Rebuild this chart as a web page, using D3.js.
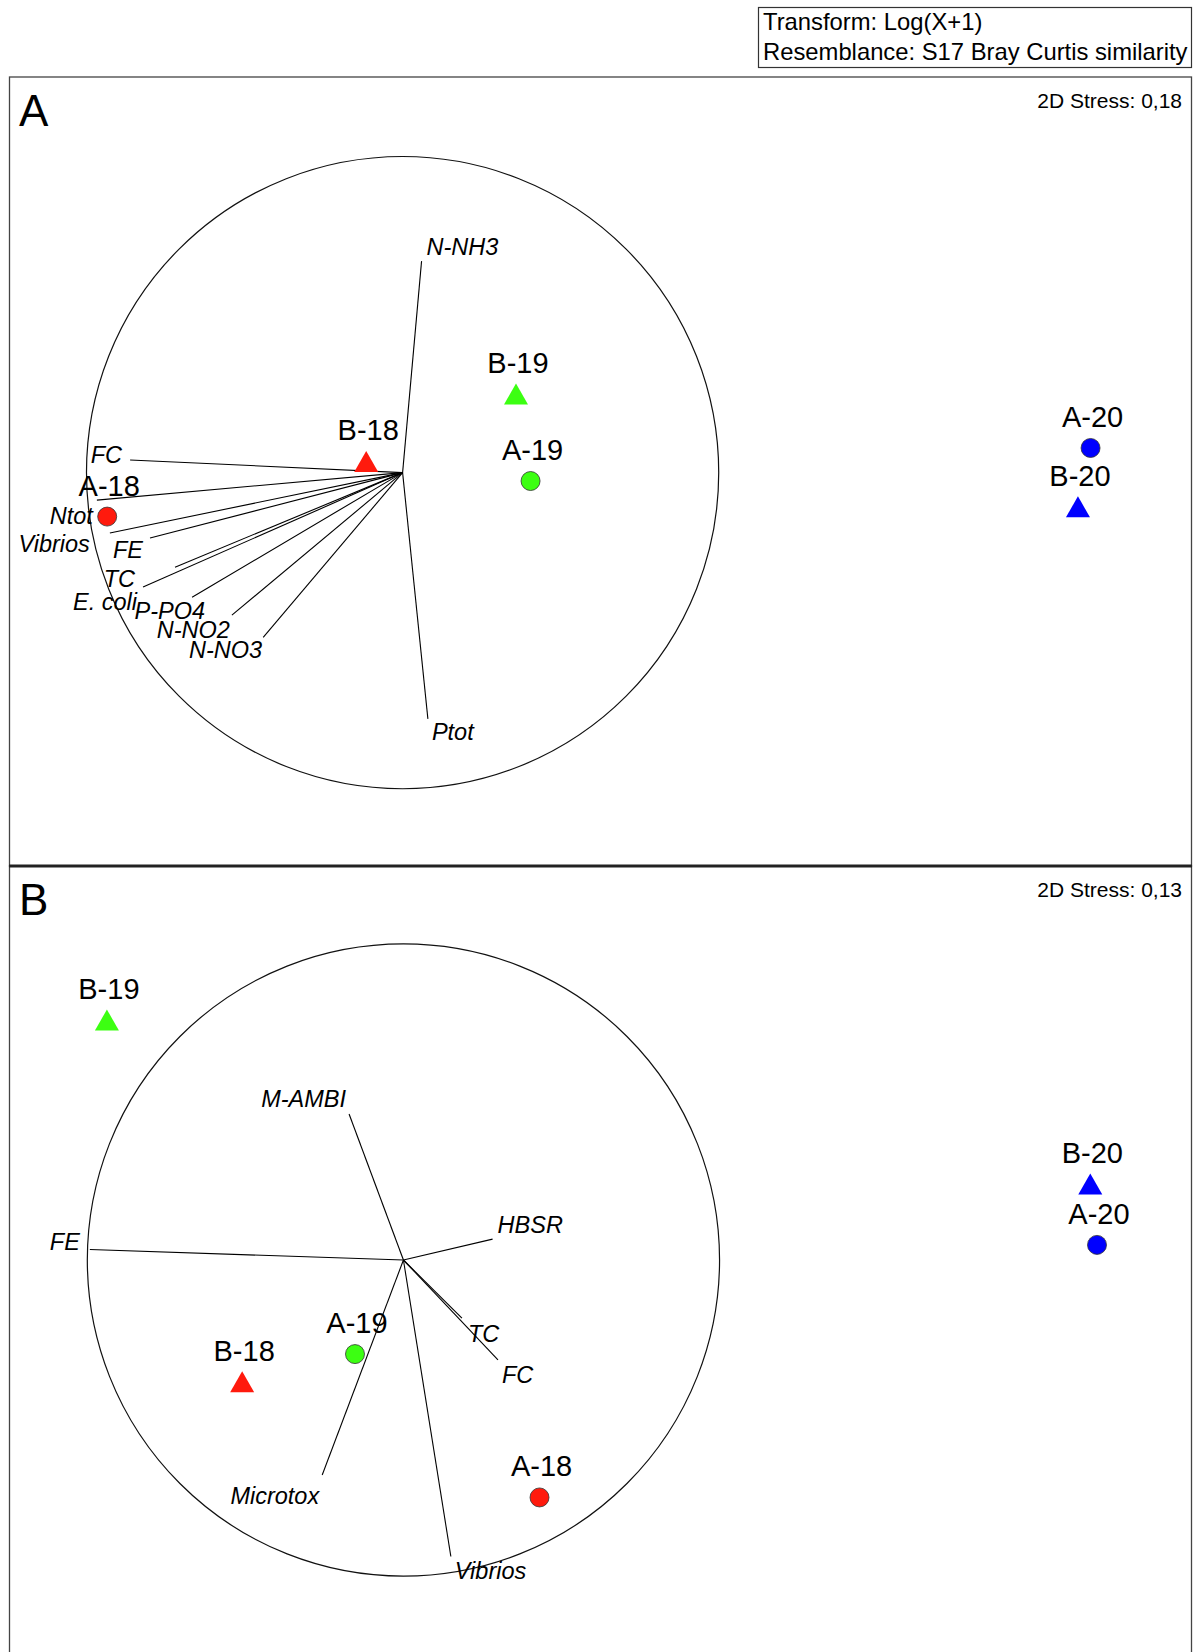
<!DOCTYPE html>
<meta charset="utf-8">
<style>
  body { margin: 0; background: #fff; }
  svg text { font-family: "Liberation Sans", Arial, sans-serif; fill: #000; }
  .vec text { font-style: italic; font-size: 23.5px; }
  .sample text { font-size: 29px; text-anchor: middle; }
</style>
<svg id="chart" width="1197" height="1652"></svg>
<script src="https://d3js.org/d3.v7.min.js"></script>
<script>
// samples (site x year)
const samples = ["A-18", "B-18", "A-19", "B-19", "A-20", "B-20"];
const sites = ["A", "B", "A", "B", "A", "B"];
const years = ["18", "18", "19", "19", "20", "20"];

// panel A - nMDS coordinates
const mdsA1 = [-1.760, -0.835, -0.248, -0.300, 1.752, 1.707];
const mdsA2 = [-0.161, 0.036, -0.034, 0.277, 0.084, -0.126];
// panel A - vector overlay (correlations)
const varsA = ["FC", "Ntot", "Vibrios", "FE", "TC", "E. coli", "P-PO4", "N-NO2", "N-NO3", "N-NH3", "Ptot"];
const corrA1 = [-0.862, -0.967, -0.926, -0.799, -0.720, -0.821, -0.666, -0.540, -0.441, 0.060, 0.080];
const corrA2 = [0.040, -0.087, -0.191, -0.207, -0.299, -0.362, -0.394, -0.451, -0.521, 0.669, -0.779];
const circleA = [-0.705, -0.004, 1.129]; // centre mds1, centre mds2, radius
const stressA = "2D Stress: 0,18";

// panel B
const mdsB1 = [-0.216, -1.278, -0.875, -1.761, 1.775, 1.751];
const mdsB2 = [-0.848, -0.435, -0.336, 0.857, 0.054, 0.271];
const varsB = ["M-AMBI", "HBSR", "FE", "TC", "FC", "Microtox", "Vibrios"];
const corrB1 = [-0.172, 0.282, -0.992, 0.185, 0.299, -0.257, 0.150];
const corrB2 = [0.462, 0.066, 0.033, -0.184, -0.316, -0.680, -0.938];
const circleB = [-0.702, 0.0, 1.129];
const stressB = "2D Stress: 0,13";

const legendLines = ["Transform: Log(X+1)", "Resemblance: S17 Bray Curtis similarity"];

// label placement next to vector tips: [dx, dy, anchor]
const tipA = {
  "FC": [-8, 3, "end"], "Ntot": [-4, 24, "end"], "Vibrios": [-20, 19, "end"],
  "FE": [-7, 20, "end"], "TC": [-40, 20, "end"], "E. coli": [-6, 23, "end"],
  "P-PO4": [13, 22, "end"], "N-NO2": [-2, 23, "end"], "N-NO3": [-1, 21, "end"],
  "N-NH3": [5, -6, "start"], "Ptot": [4, 21, "start"]
};
const tipB = {
  "M-AMBI": [-3, -7, "end"], "HBSR": [5, -6, "start"], "FE": [-10, 0, "end"],
  "TC": [6, 24, "start"], "FC": [4, 23, "start"], "Microtox": [-3, 29, "end"],
  "Vibrios": [4, 22, "start"]
};

const svg = d3.select("#chart");
const color = d3.scaleOrdinal().domain(["18", "19", "20"]).range(["#ff1a0d", "#3cff12", "#0000ff"]);
const x = d3.scaleLinear().domain([-2.1, 2.1]).range([12, 1188]);

// legend box
const leg = svg.append("g");
leg.append("rect").attr("x", 758.5).attr("y", 7.5).attr("width", 433).attr("height", 60)
  .attr("fill", "none").attr("stroke", "#333").attr("stroke-width", 1.2);
legendLines.forEach((t, i) => {
  leg.append("text").attr("x", 763).attr("y", 30 + i * 30).style("font-size", "23.8px").text(t);
});

function drawPanel(top, bottom, mid, letter, stress, m1, m2, vars, c1, c2, circ, tips) {
  const g = svg.append("g");
  const y = d3.scaleLinear().domain([-1.4, 1.4]).range([mid + 392, mid - 392]);

  g.append("rect").attr("x", 9.5).attr("y", top).attr("width", 1182).attr("height", bottom - top)
    .attr("fill", "none").attr("stroke", "#444").attr("stroke-width", 1.3);

  g.append("text").attr("x", 19).attr("y", top + 49).style("font-size", "44px").text(letter);
  g.append("text").attr("x", 1182).attr("y", top + 31).attr("text-anchor", "end")
    .style("font-size", "21px").text(stress);

  // correlation circle
  const ox = x(circ[0]), oy = y(circ[1]);
  g.append("circle").attr("cx", ox).attr("cy", oy).attr("r", x(circ[2]) - x(0))
    .attr("fill", "none").attr("stroke", "#111").attr("stroke-width", 1.2);

  const vec = g.append("g").attr("class", "vec");
  const vdata = vars.map((v, i) => ({ name: v, ex: x(circ[0] + c1[i] * circ[2]), ey: y(circ[1] + c2[i] * circ[2]) }));
  vec.selectAll("line").data(vdata).join("line")
    .attr("x1", ox).attr("y1", oy).attr("x2", d => d.ex).attr("y2", d => d.ey)
    .attr("stroke", "#000").attr("stroke-width", 1.1);
  vec.selectAll("text").data(vdata).join("text")
    .attr("x", d => d.ex + tips[d.name][0]).attr("y", d => d.ey + tips[d.name][1])
    .attr("text-anchor", d => tips[d.name][2]).text(d => d.name);

  // samples
  const sdata = samples.map((s, i) => ({ name: s, site: sites[i], year: years[i], px: x(m1[i]), py: y(m2[i]) }));
  const sg = g.append("g").attr("class", "sample");
  sg.selectAll("path").data(sdata.filter(d => d.site === "B")).join("path")
    .attr("d", d => `M${d.px},${d.py - 10.5}L${d.px + 12},${d.py + 10.5}L${d.px - 12},${d.py + 10.5}Z`)
    .attr("fill", d => color(d.year));
  sg.selectAll("circle").data(sdata.filter(d => d.site === "A")).join("circle")
    .attr("cx", d => d.px).attr("cy", d => d.py).attr("r", 9.5)
    .attr("fill", d => color(d.year)).attr("stroke", "#333").attr("stroke-width", 0.8);
  sg.selectAll("text").data(sdata).join("text")
    .attr("x", d => d.px + 2).attr("y", d => d.py - 21).text(d => d.name);
}

drawPanel(77, 866, 471.5, "A", stressA, mdsA1, mdsA2, varsA, corrA1, corrA2, circleA, tipA);
drawPanel(866, 1662, 1260, "B", stressB, mdsB1, mdsB2, varsB, corrB1, corrB2, circleB, tipB);

// heavier divider between the two panels
svg.append("line").attr("x1", 9).attr("x2", 1192).attr("y1", 866).attr("y2", 866)
  .attr("stroke", "#222").attr("stroke-width", 3);
</script>
